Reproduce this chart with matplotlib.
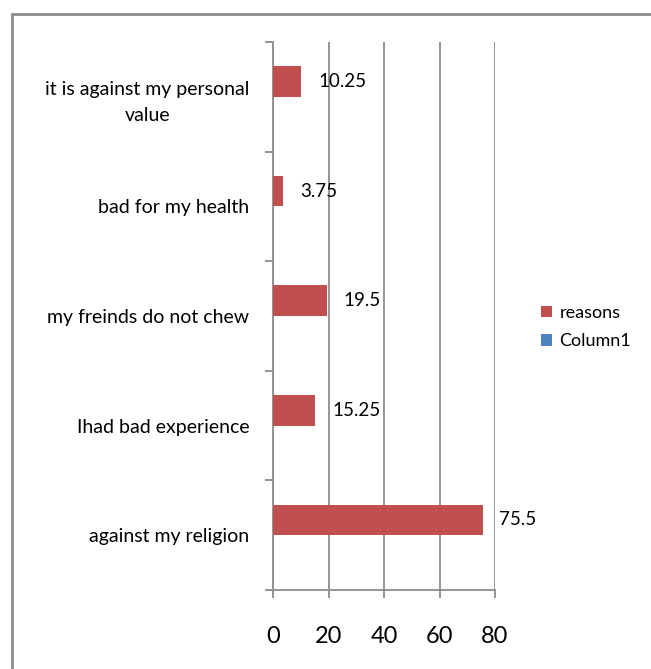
import numpy as np
import matplotlib.pyplot as plt
from matplotlib.patches import Rectangle

plt.rcParams['font.family'] = ['Lato', 'DejaVu Sans']

categories = ['against my religion', 'Ihad bad experience', 'my freinds do not chew',
              'bad for my health', 'it is against my personal\nvalue']
reasons = [75.5, 15.25, 19.5, 3.75, 10.25]
column1 = [0, 0, 0, 0, 0]
x_ticks = [0, 20, 40, 60, 80]

fig = plt.figure(figsize=(6.51, 6.69), dpi=100)
ax = fig.add_axes([273 / 651, 1 - 590 / 669, 222 / 651, 548 / 669])

# outer chart border (only top and left visible in the crop)
fig.patches.append(Rectangle((12 / 651, -0.1), 1.2, 1 - 14 / 669 + 0.1,
                             transform=fig.transFigure, fill=False,
                             edgecolor='#8c8c8c', linewidth=2))

y = np.arange(len(categories))
h = 0.28
ax.barh(y + h / 2, reasons, height=h, color='#C0504D', label='reasons', zorder=3)
ax.barh(y - h / 2, column1, height=h, color='#4F81BD', label='Column1', zorder=3)

for yi, v in zip(y, reasons):
    ax.text(v + 6, yi + h / 2, f'{v:g}', va='center', ha='left', fontsize=13.5, zorder=4)

ax.set_xlim(0, 80)
ax.set_ylim(-0.5, len(categories) - 0.5)
ax.set_xticks(x_ticks)
ax.set_xticklabels([str(t) for t in x_ticks], fontsize=17)
ax.xaxis.grid(True, color='#8c8c8c', linewidth=1.3, zorder=0)

ax.set_yticks(y)
ax.set_yticklabels(categories, fontsize=14, multialignment='center', linespacing=1.6)
ax.set_yticks(np.arange(-0.5, len(categories)), minor=True)
ax.tick_params(axis='y', which='major', length=0, pad=17)
ax.tick_params(axis='y', which='minor', length=6, color='#8c8c8c', width=1.3)
ax.tick_params(axis='x', length=6, color='#8c8c8c', width=1.3, pad=20)

for s in ['top', 'right']:
    ax.spines[s].set_visible(False)
for s in ['left', 'bottom']:
    ax.spines[s].set_color('#8c8c8c')
    ax.spines[s].set_linewidth(1.3)

handles, labels = ax.get_legend_handles_labels()
fig.legend(handles, labels, loc='center left', bbox_to_anchor=(525 / 651, 1 - 327 / 669),
           frameon=False, fontsize=13, handlelength=0.6, handleheight=0.6,
           handletextpad=0.4, labelspacing=0.7)

fig.savefig('out.png', dpi=100)
